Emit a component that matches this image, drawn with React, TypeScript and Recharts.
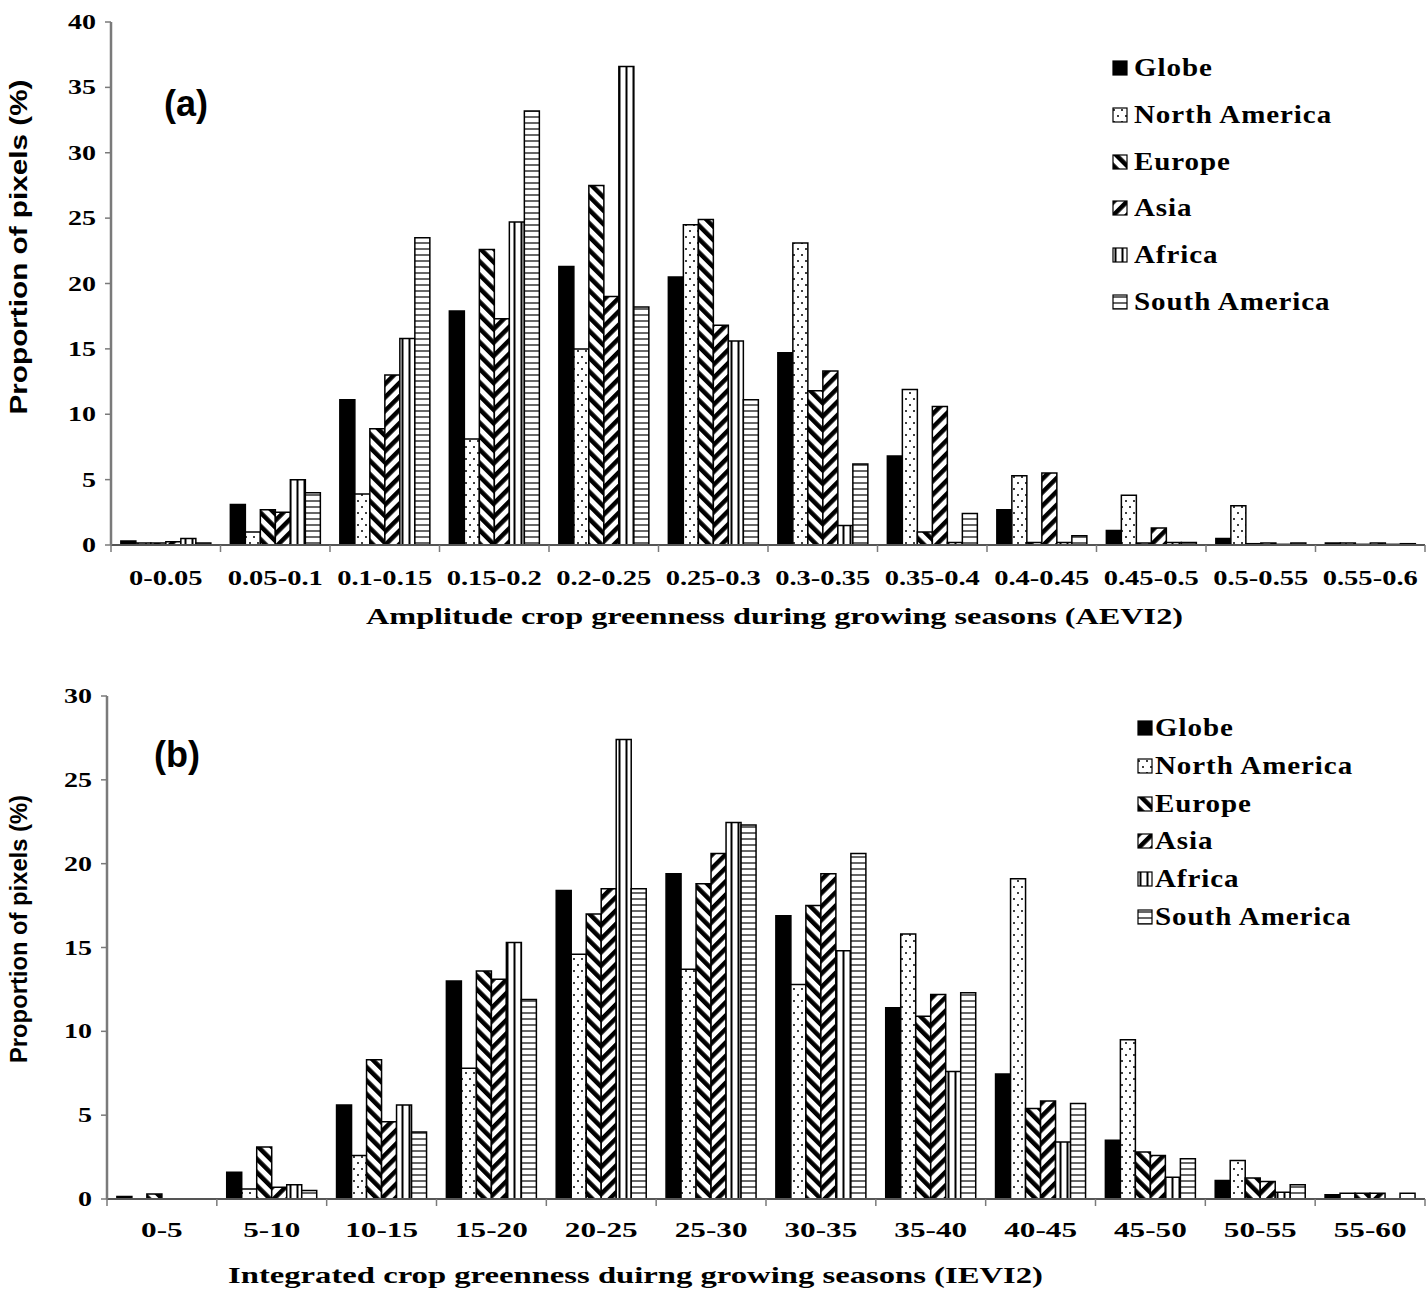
import React from 'react';
import { BarChart, Bar, XAxis, YAxis } from 'recharts';

const SERIES_NAMES = ['Globe', 'North America', 'Europe', 'Asia', 'Africa', 'South America'];
const SERIES_KEYS = ['globe', 'northAmerica', 'europe', 'asia', 'africa', 'southAmerica'];
const SERIES_FILLS = [
  '#000000',
  'url(#fill-dots)',
  'url(#fill-europe)',
  'url(#fill-asia)',
  'url(#fill-vertical)',
  'url(#fill-horizontal)',
];

// (a) amplitude of crop greenness
const AEVI2_BINS = ['0-0.05', '0.05-0.1', '0.1-0.15', '0.15-0.2', '0.2-0.25', '0.25-0.3', '0.3-0.35', '0.35-0.4', '0.4-0.45', '0.45-0.5', '0.5-0.55', '0.55-0.6'];
const AEVI2_GLOBE = [0.3, 3.1, 11.1, 17.9, 21.3, 20.5, 14.7, 6.8, 2.7, 1.1, 0.5, 0.15];
const AEVI2_NORTH_AMERICA = [0.15, 1.0, 3.9, 8.1, 15.0, 24.5, 23.1, 11.9, 5.3, 3.8, 3.0, 0.15];
const AEVI2_EUROPE = [0.15, 2.7, 8.9, 22.6, 27.5, 24.9, 11.8, 1.0, 0.2, 0.15, 0.1, 0.05];
const AEVI2_ASIA = [0.25, 2.5, 13.0, 17.3, 19.0, 16.8, 13.3, 10.6, 5.5, 1.3, 0.15, 0.15];
const AEVI2_AFRICA = [0.5, 5.0, 15.8, 24.7, 36.6, 15.6, 1.5, 0.2, 0.2, 0.2, 0.05, 0.05];
const AEVI2_SOUTH_AMERICA = [0.15, 4.0, 23.5, 33.2, 18.2, 11.1, 6.2, 2.4, 0.7, 0.2, 0.15, 0.1];
const AEVI2_TICKS = [0, 5, 10, 15, 20, 25, 30, 35, 40];

// (b) integrated crop greenness
const IEVI2_BINS = ['0-5', '5-10', '10-15', '15-20', '20-25', '25-30', '30-35', '35-40', '40-45', '45-50', '50-55', '55-60'];
const IEVI2_GLOBE = [0.15, 1.6, 5.6, 13.0, 18.4, 19.4, 16.9, 11.4, 7.45, 3.5, 1.1, 0.25];
const IEVI2_NORTH_AMERICA = [0, 0.6, 2.6, 7.8, 14.6, 13.7, 12.8, 15.8, 19.1, 9.5, 2.3, 0.35];
const IEVI2_EUROPE = [0.3, 3.1, 8.3, 13.6, 17.0, 18.8, 17.5, 10.9, 5.4, 2.8, 1.25, 0.35];
const IEVI2_ASIA = [0, 0.7, 4.6, 13.1, 18.5, 20.6, 19.4, 12.2, 5.85, 2.6, 1.05, 0.35];
const IEVI2_AFRICA = [0, 0.85, 5.6, 15.3, 27.4, 22.45, 14.8, 7.6, 3.4, 1.3, 0.4, 0];
const IEVI2_SOUTH_AMERICA = [0, 0.5, 4.0, 11.9, 18.5, 22.3, 20.6, 12.3, 5.7, 2.4, 0.85, 0.35];
const IEVI2_TICKS = [0, 5, 10, 15, 20, 25, 30];

const buildRows = (bins: string[], series: number[][]) =>
  bins.map((bin, i) => {
    const row: Record<string, string | number> = { bin };
    SERIES_KEYS.forEach((k, s) => {
      row[k] = series[s][i];
    });
    return row;
  });

const aevi2Data = buildRows(AEVI2_BINS, [AEVI2_GLOBE, AEVI2_NORTH_AMERICA, AEVI2_EUROPE, AEVI2_ASIA, AEVI2_AFRICA, AEVI2_SOUTH_AMERICA]);
const ievi2Data = buildRows(IEVI2_BINS, [IEVI2_GLOBE, IEVI2_NORTH_AMERICA, IEVI2_EUROPE, IEVI2_ASIA, IEVI2_AFRICA, IEVI2_SOUTH_AMERICA]);

const SERIF = "'Liberation Serif', 'Times New Roman', serif";
const SANS = "'Liberation Sans', Arial, sans-serif";
const NARROW = "'Liberation Sans Narrow', 'Liberation Sans', Arial, sans-serif";
const AXIS_GREY = '#7a7a7a';

function Patterns() {
  return (
    <svg width={0} height={0} style={{ position: 'absolute' }}>
      <defs>
        <pattern id="fill-dots" width={8} height={12} patternUnits="userSpaceOnUse">
          <rect width={8} height={12} fill="#fff" />
          <circle cx={2} cy={3} r={1} fill="#000" />
          <circle cx={6} cy={9} r={1} fill="#000" />
        </pattern>
        <pattern id="fill-europe" width={9.5} height={9.5} patternUnits="userSpaceOnUse" patternTransform="rotate(-45)">
          <rect width={9.5} height={9.5} fill="#fff" />
          <rect width={4.5} height={9.5} fill="#000" />
        </pattern>
        <pattern id="fill-asia" width={9.5} height={9.5} patternUnits="userSpaceOnUse" patternTransform="rotate(45)">
          <rect width={9.5} height={9.5} fill="#fff" />
          <rect width={4.5} height={9.5} fill="#000" />
        </pattern>
        <pattern id="fill-vertical" width={7} height={7} patternUnits="userSpaceOnUse">
          <rect width={7} height={7} fill="#fff" />
          <line x1={3.5} y1={0} x2={3.5} y2={7} stroke="#000" strokeWidth={2} />
        </pattern>
        <pattern id="fill-horizontal" width={6} height={6} patternUnits="userSpaceOnUse">
          <rect width={6} height={6} fill="#fff" />
          <line x1={0} y1={3} x2={6} y2={3} stroke="#000" strokeWidth={1.2} />
        </pattern>
      </defs>
    </svg>
  );
}

interface PanelProps {
  data: Record<string, string | number>[];
  top: number;
  height: number;
  yAxisWidth: number;
  plotTop: number;
  plotBottom: number;
  yMax: number;
  yTicks: number[];
  catFont: number;
  catStretch: number;
  catDy: number;
  xTitle: string;
  xTitleX: number;
  xTitleY: number;
  xTitleLen: number;
  yTitleY: number;
  yTitleLen: number;
  tag: string;
  tagX: number;
  tagY: number;
  legendSquareX: number;
  legendTextX: number;
  legendY0: number;
  legendStep: number;
}

function Panel(p: PanelProps) {
  const CHART_W = 1428;
  const xAxisHeight = 90;
  const bottomMargin = p.height - p.plotBottom - xAxisHeight;
  const bandHalf = (CHART_W - 3 - p.yAxisWidth) / p.data.length / 2;

  // eslint-disable-next-line @typescript-eslint/no-explicit-any
  const renderCatTick = (props: any) => {
    const { x, payload, index } = props;
    const off = payload?.offset || bandHalf;
    const ty = p.plotBottom + p.catDy;
    return (
      <g>
        <line x1={x - off} x2={x - off} y1={p.plotBottom} y2={p.plotBottom + 7} stroke={AXIS_GREY} strokeWidth={1.5} />
        {index === p.data.length - 1 && (
          <line x1={x + off} x2={x + off} y1={p.plotBottom} y2={p.plotBottom + 7} stroke={AXIS_GREY} strokeWidth={1.5} />
        )}
        <text
          transform={`translate(${x} ${ty}) scale(${p.catStretch} 1)`}
          dy="0.35em"
          textAnchor="middle"
          fontFamily={SERIF}
          fontWeight="bold"
          fontSize={p.catFont}
          fill="#000"
        >
          {payload.value}
        </text>
      </g>
    );
  };

  // eslint-disable-next-line @typescript-eslint/no-explicit-any
  const renderValueTick = (props: any) => (
    <text
      transform={`translate(${props.x} ${props.y}) scale(1.4 1)`}
      dy="0.35em"
      textAnchor="end"
      fontFamily={SERIF}
      fontWeight="bold"
      fontSize={20}
      fill="#000"
    >
      {props.payload.value}
    </text>
  );

  return (
    <div style={{ position: 'absolute', left: 0, top: p.top, width: CHART_W, height: p.height }}>
      <BarChart
        width={CHART_W}
        height={p.height}
        data={p.data}
        margin={{ top: p.plotTop, right: 3, left: 0, bottom: bottomMargin }}
        barCategoryGap="9%"
        barGap={0}
      >
        <XAxis
          dataKey="bin"
          height={xAxisHeight}
          interval={0}
          tickLine={false}
          axisLine={{ stroke: '#555', strokeWidth: 2 }}
          tick={renderCatTick}
          label={() => (
            <text
              x={p.xTitleX}
              y={p.xTitleY}
              dy="0.35em"
              fontFamily={SERIF}
              fontWeight="bold"
              fontSize={23}
              fill="#000"
              textLength={p.xTitleLen}
              lengthAdjust="spacingAndGlyphs"
            >
              {p.xTitle}
            </text>
          )}
        />
        <XAxis xAxisId="top" orientation="top" dataKey="bin" height={0} tick={false} tickLine={false} axisLine={{ stroke: '#000', strokeWidth: 3 }} />
        <YAxis
          width={p.yAxisWidth}
          domain={[0, p.yMax]}
          ticks={p.yTicks}
          interval={0}
          tickSize={6}
          tickMargin={9}
          tickLine={{ stroke: AXIS_GREY, strokeWidth: 1.5 }}
          axisLine={{ stroke: AXIS_GREY, strokeWidth: 2.5 }}
          tick={renderValueTick}
          label={() => (
            <text
              x={18}
              y={p.yTitleY}
              transform={`rotate(-90 18 ${p.yTitleY})`}
              textAnchor="middle"
              dominantBaseline="central"
              fontFamily={NARROW}
              fontWeight="bold"
              fontSize={24}
              fill="#000"
              textLength={p.yTitleLen}
              lengthAdjust="spacingAndGlyphs"
            >
              Proportion of pixels (%)
            </text>
          )}
        />
        <YAxis yAxisId="right" orientation="right" width={0} tick={false} tickLine={false} axisLine={{ stroke: '#000', strokeWidth: 2 }} />
        {SERIES_KEYS.map((k, i) => (
          <Bar key={k} dataKey={k} name={SERIES_NAMES[i]} fill={SERIES_FILLS[i]} stroke="#000" strokeWidth={1.5} isAnimationActive={false} />
        ))}
      </BarChart>
      <div
        style={{
          position: 'absolute',
          left: p.tagX,
          top: p.tagY - 22,
          fontFamily: SANS,
          fontWeight: 'bold',
          fontSize: 36,
          lineHeight: '44px',
          color: '#000',
        }}
      >
        {p.tag}
      </div>
      {SERIES_NAMES.map((name, i) => {
        const cy = p.legendY0 + i * p.legendStep;
        return (
          <div key={name}>
            <svg
              width={16}
              height={16}
              style={{ position: 'absolute', left: p.legendSquareX, top: cy - 8 }}
            >
              <rect x={1} y={1} width={14} height={14} fill={SERIES_FILLS[i]} stroke="#000" strokeWidth={1.2} />
            </svg>
            <div
              style={{
                position: 'absolute',
                left: p.legendTextX,
                top: cy - 16,
                lineHeight: '32px',
                fontFamily: SERIF,
                fontWeight: 'bold',
                fontSize: 25,
                letterSpacing: 0.8,
                transform: 'scaleX(1.16)',
                transformOrigin: 'left center',
                color: '#000',
                whiteSpace: 'nowrap',
              }}
            >
              {name}
            </div>
          </div>
        );
      })}
    </div>
  );
}

export default function App() {
  return (
    <div style={{ position: 'absolute', left: 0, top: 0, width: 1428, height: 1289, background: '#fff', overflow: 'hidden' }}>
      <Patterns />
      <Panel
        data={aevi2Data}
        top={0}
        height={650}
        yAxisWidth={111}
        plotTop={22}
        plotBottom={545}
        yMax={40}
        yTicks={AEVI2_TICKS}
        catFont={21}
        catStretch={1.36}
        catDy={33}
        xTitle="Amplitude   crop  greenness during  growing  seasons (AEVI2)"
        xTitleX={366}
        xTitleY={616}
        xTitleLen={817}
        yTitleY={247}
        yTitleLen={335}
        tag="(a)"
        tagX={164}
        tagY={104}
        legendSquareX={1112}
        legendTextX={1134}
        legendY0={68}
        legendStep={46.8}
      />
      <Panel
        data={ievi2Data}
        top={650}
        height={639}
        yAxisWidth={107}
        plotTop={46}
        plotBottom={549}
        yMax={30}
        yTicks={IEVI2_TICKS}
        catFont={22}
        catStretch={1.42}
        catDy={30}
        xTitle="Integrated  crop  greenness  duirng  growing  seasons (IEVI2)"
        xTitleX={228}
        xTitleY={625}
        xTitleLen={815}
        yTitleY={279}
        yTitleLen={268}
        tag="(b)"
        tagX={154}
        tagY={105}
        legendSquareX={1137}
        legendTextX={1155}
        legendY0={78}
        legendStep={37.8}
      />
    </div>
  );
}
